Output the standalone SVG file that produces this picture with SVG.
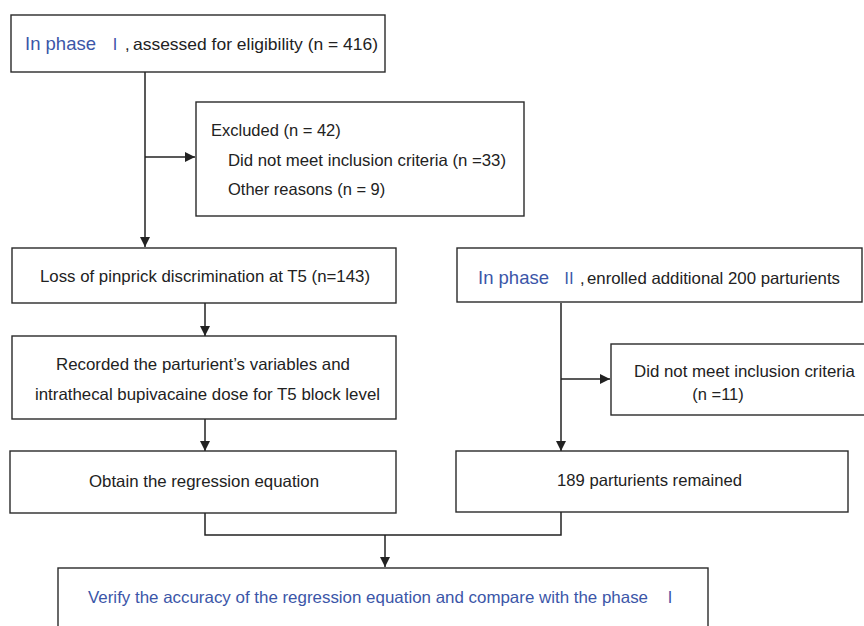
<svg xmlns="http://www.w3.org/2000/svg" width="864" height="626" viewBox="0 0 864 626">
<style>
.box{fill:#fff;stroke:#2a2a2a;stroke-width:1.4}
.t{font-family:"Liberation Sans",Arial,sans-serif;font-size:16.5px;fill:#222}
.b{fill:#3b56a8}
.big{font-size:18.5px}
.r{font-family:"Noto Sans CJK SC","Liberation Serif",serif;font-size:16px;fill:#3b56a8}
.c{text-anchor:middle}
.ln{fill:none;stroke:#222;stroke-width:1.5}
</style>
<defs>
<marker id="ah" viewBox="0 0 10 10" refX="10" refY="5" markerWidth="10" markerHeight="10" markerUnits="userSpaceOnUse" orient="auto">
<path d="M0,0 L10,5 L0,10 Z" fill="#222"/>
</marker>
</defs>
<rect width="864" height="626" fill="#fff"/>
<g id="connectors">
<path class="ln" d="M145,72 V247" marker-end="url(#ah)"/>
<path class="ln" d="M145,157 H195" marker-end="url(#ah)"/>
<path class="ln" d="M205,303 V336" marker-end="url(#ah)"/>
<path class="ln" d="M205,419 V451" marker-end="url(#ah)"/>
<path class="ln" d="M561,303 V451" marker-end="url(#ah)"/>
<path class="ln" d="M561,379 H610" marker-end="url(#ah)"/>
<path class="ln" d="M205,513 V535 H561 V512"/>
<path class="ln" d="M385,535 V567" marker-end="url(#ah)"/>
</g>
<g id="n1">
<rect class="box" x="11" y="15" width="374" height="57"/>
<text class="t" x="25" y="50"><tspan class="b big" textLength="71" lengthAdjust="spacingAndGlyphs">In phase</tspan></text>
<text class="r" x="107" y="50">Ⅰ</text>
<text class="t" x="125" y="50">,</text>
<text class="t" x="133" y="50" textLength="245" lengthAdjust="spacingAndGlyphs">assessed for eligibility (n = 416)</text>
</g>
<g id="n2">
<rect class="box" x="196" y="102" width="328" height="114"/>
<text class="t" x="211" y="136">Excluded (n = 42)</text>
<text class="t" x="228" y="166" textLength="278" lengthAdjust="spacingAndGlyphs">Did not meet inclusion criteria (n =33)</text>
<text class="t" x="228" y="195">Other reasons (n = 9)</text>
</g>
<g id="n3">
<rect class="box" x="12" y="248" width="384" height="55"/>
<text class="t" x="40" y="282" textLength="330" lengthAdjust="spacingAndGlyphs">Loss of pinprick discrimination at T5 (n=143)</text>
</g>
<g id="n4">
<rect class="box" x="12" y="336" width="384" height="83"/>
<text class="t" x="56" y="370" textLength="294" lengthAdjust="spacingAndGlyphs">Recorded the parturient’s variables and</text>
<text class="t" x="35" y="400" textLength="345" lengthAdjust="spacingAndGlyphs">intrathecal bupivacaine dose for T5 block level</text>
</g>
<g id="n5">
<rect class="box" x="10" y="451" width="386" height="62"/>
<text class="t" x="89" y="487" textLength="230" lengthAdjust="spacingAndGlyphs">Obtain the regression equation</text>
</g>
<g id="n6">
<rect class="box" x="457" y="248" width="405" height="54"/>
<text class="t" x="478" y="284"><tspan class="b big" textLength="71" lengthAdjust="spacingAndGlyphs">In phase</tspan></text>
<text class="r" x="561" y="284">Ⅱ</text>
<text class="t" x="580" y="284">,</text>
<text class="t" x="587" y="284" textLength="253" lengthAdjust="spacingAndGlyphs">enrolled additional 200 parturients</text>
</g>
<g id="n7">
<rect class="box" x="611" y="344" width="260" height="71"/>
<text class="t" x="634" y="377" textLength="221" lengthAdjust="spacingAndGlyphs">Did not meet inclusion criteria</text>
<text class="t c" x="718" y="400">(n =11)</text>
</g>
<g id="n8">
<rect class="box" x="456" y="451" width="392" height="61"/>
<text class="t" x="557" y="486" textLength="185" lengthAdjust="spacingAndGlyphs">189 parturients remained</text>
</g>
<g id="n9">
<rect class="box" x="58" y="568" width="650" height="70"/>
<text class="t b" x="88" y="603" textLength="560" lengthAdjust="spacingAndGlyphs">Verify the accuracy of the regression equation and compare with the phase</text>
<text class="r" x="662" y="603">Ⅰ</text>
</g>
</svg>
